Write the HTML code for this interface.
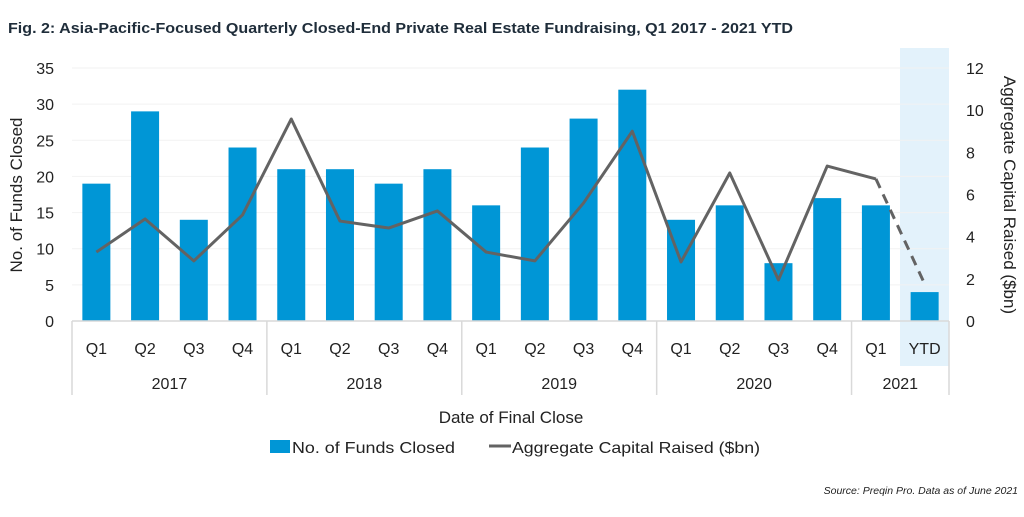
<!DOCTYPE html>
<html><head><meta charset="utf-8"><style>
body{margin:0;background:#fff;font-family:"Liberation Sans",sans-serif;}
svg text{font-family:"Liberation Sans",sans-serif;}
</style></head><body>
<svg width="1024" height="512" xmlns="http://www.w3.org/2000/svg">
<text x="8" y="33" font-size="14.5" font-weight="bold" fill="#1f2d3a" textLength="785" lengthAdjust="spacingAndGlyphs">Fig. 2: Asia-Pacific-Focused Quarterly Closed-End Private Real Estate Fundraising, Q1 2017 - 2021 YTD</text>
<rect x="900" y="48" width="49" height="318" fill="#e3f2fb"/>
<g id="grid"></g><g id="bars"></g><g id="line"></g><g id="axes"></g>
<text transform="translate(22,195) rotate(-90)" text-anchor="middle" font-size="17" fill="#222">No. of Funds Closed</text>
<text transform="translate(1004,195) rotate(90)" text-anchor="middle" font-size="17" fill="#222">Aggregate Capital Raised ($bn)</text>
<text x="511" y="423" text-anchor="middle" font-size="17" fill="#222">Date of Final Close</text>
<g>
<rect x="270" y="440" width="20" height="13" fill="#0096d6"/>
<text x="292" y="453" font-size="16" fill="#222" textLength="163" lengthAdjust="spacingAndGlyphs">No. of Funds Closed</text>
<line x1="489" y1="446" x2="511" y2="446" stroke="#636363" stroke-width="3"/>
<text x="512" y="453" font-size="16" fill="#222" textLength="248" lengthAdjust="spacingAndGlyphs">Aggregate Capital Raised ($bn)</text>
</g>
<text x="1018" y="494" text-anchor="end" font-size="10.5" font-style="italic" fill="#222">Source: Preqin Pro. Data as of June 2021</text>
</svg>
<script>
const quarters=["Q1","Q2","Q3","Q4","Q1","Q2","Q3","Q4","Q1","Q2","Q3","Q4","Q1","Q2","Q3","Q4","Q1","YTD"];
const years=["2017","2018","2019","2020","2021"];
const yearCounts=[4,4,4,4,2];
const funds=[19,29,14,24,21,21,19,21,16,24,28,32,14,16,8,17,16,4];
const capital=[3.27,4.84,2.85,5.03,9.58,4.74,4.41,5.22,3.27,2.85,5.6,9.0,2.8,7.02,1.95,7.35,6.74,1.76];
const leftTicks=[0,5,10,15,20,25,30,35];
const rightTicks=[0,2,4,6,8,10,12];
const NS="http://www.w3.org/2000/svg";
const X0=72,X1=949,Y0=321,YT=68;
const cw=(X1-X0)/quarters.length;
const xc=i=>X0+cw*(i+0.5);
const yl=v=>Y0-(Y0-YT)*v/35;
const yr=v=>Y0-(Y0-YT)*v/12;
function mk(tag,attrs,parent,txt){const e=document.createElementNS(NS,tag);for(const k in attrs)e.setAttribute(k,attrs[k]);if(txt!==undefined)e.textContent=txt;document.getElementById(parent).appendChild(e);return e;}
leftTicks.forEach(t=>{
 const g=mk('line',{x1:X0,x2:X1,y1:yl(t),y2:yl(t),stroke:'#f2f2f2'},'grid');
 
 
 const l=mk('text',{x:54,y:yl(t)+6,'text-anchor':'end','font-size':16,fill:'#222'},'axes',t);
 
 
});
rightTicks.forEach(t=>{
 const l=mk('text',{x:966,y:yr(t)+6,'font-size':16,fill:'#222'},'axes',t);
 
 
});
funds.forEach((v,i)=>{
 const b=mk('rect',{x:xc(i)-14,y:yl(v),width:28,height:Y0-yl(v),fill:'#0096d6'},'bars');
 
 
});
let d='';
for(let i=0;i<capital.length-1;i++)d+=(i?'L':'M')+xc(i)+','+yr(capital[i]);
const p=mk('path',{d:d,fill:'none',stroke:'#636363','stroke-width':3,'stroke-linejoin':'round'},'line');


const n=capital.length;
const dl=mk('line',{x1:xc(n-2),y1:yr(capital[n-2]),x2:xc(n-1),y2:yr(capital[n-1]),stroke:'#636363','stroke-width':3,'stroke-dasharray':'10,7'},'line');


const ax=mk('line',{x1:X0,x2:X1,y1:Y0,y2:Y0,stroke:'#d9d9d9','stroke-width':1.5},'axes');


quarters.forEach((q,i)=>{
 const t=mk('text',{x:xc(i),y:354,'text-anchor':'middle','font-size':16,fill:'#222'},'axes',q);
 
 
});
let idx=0;
const sep0=mk('line',{x1:X0,x2:X0,y1:Y0,y2:395,stroke:'#d9d9d9','stroke-width':1.5},'axes');


years.forEach((y,k)=>{
 const s=idx,e=idx+yearCounts[k];idx=e;
 const t=mk('text',{x:X0+cw*(s+e)/2,y:389,'text-anchor':'middle','font-size':16,fill:'#222'},'axes',y);
 
 
 const sx=X0+cw*e;
 const sl=mk('line',{x1:sx,x2:sx,y1:Y0,y2:395,stroke:'#d9d9d9','stroke-width':1.5},'axes');
 
 
});
</script>
</body></html>
